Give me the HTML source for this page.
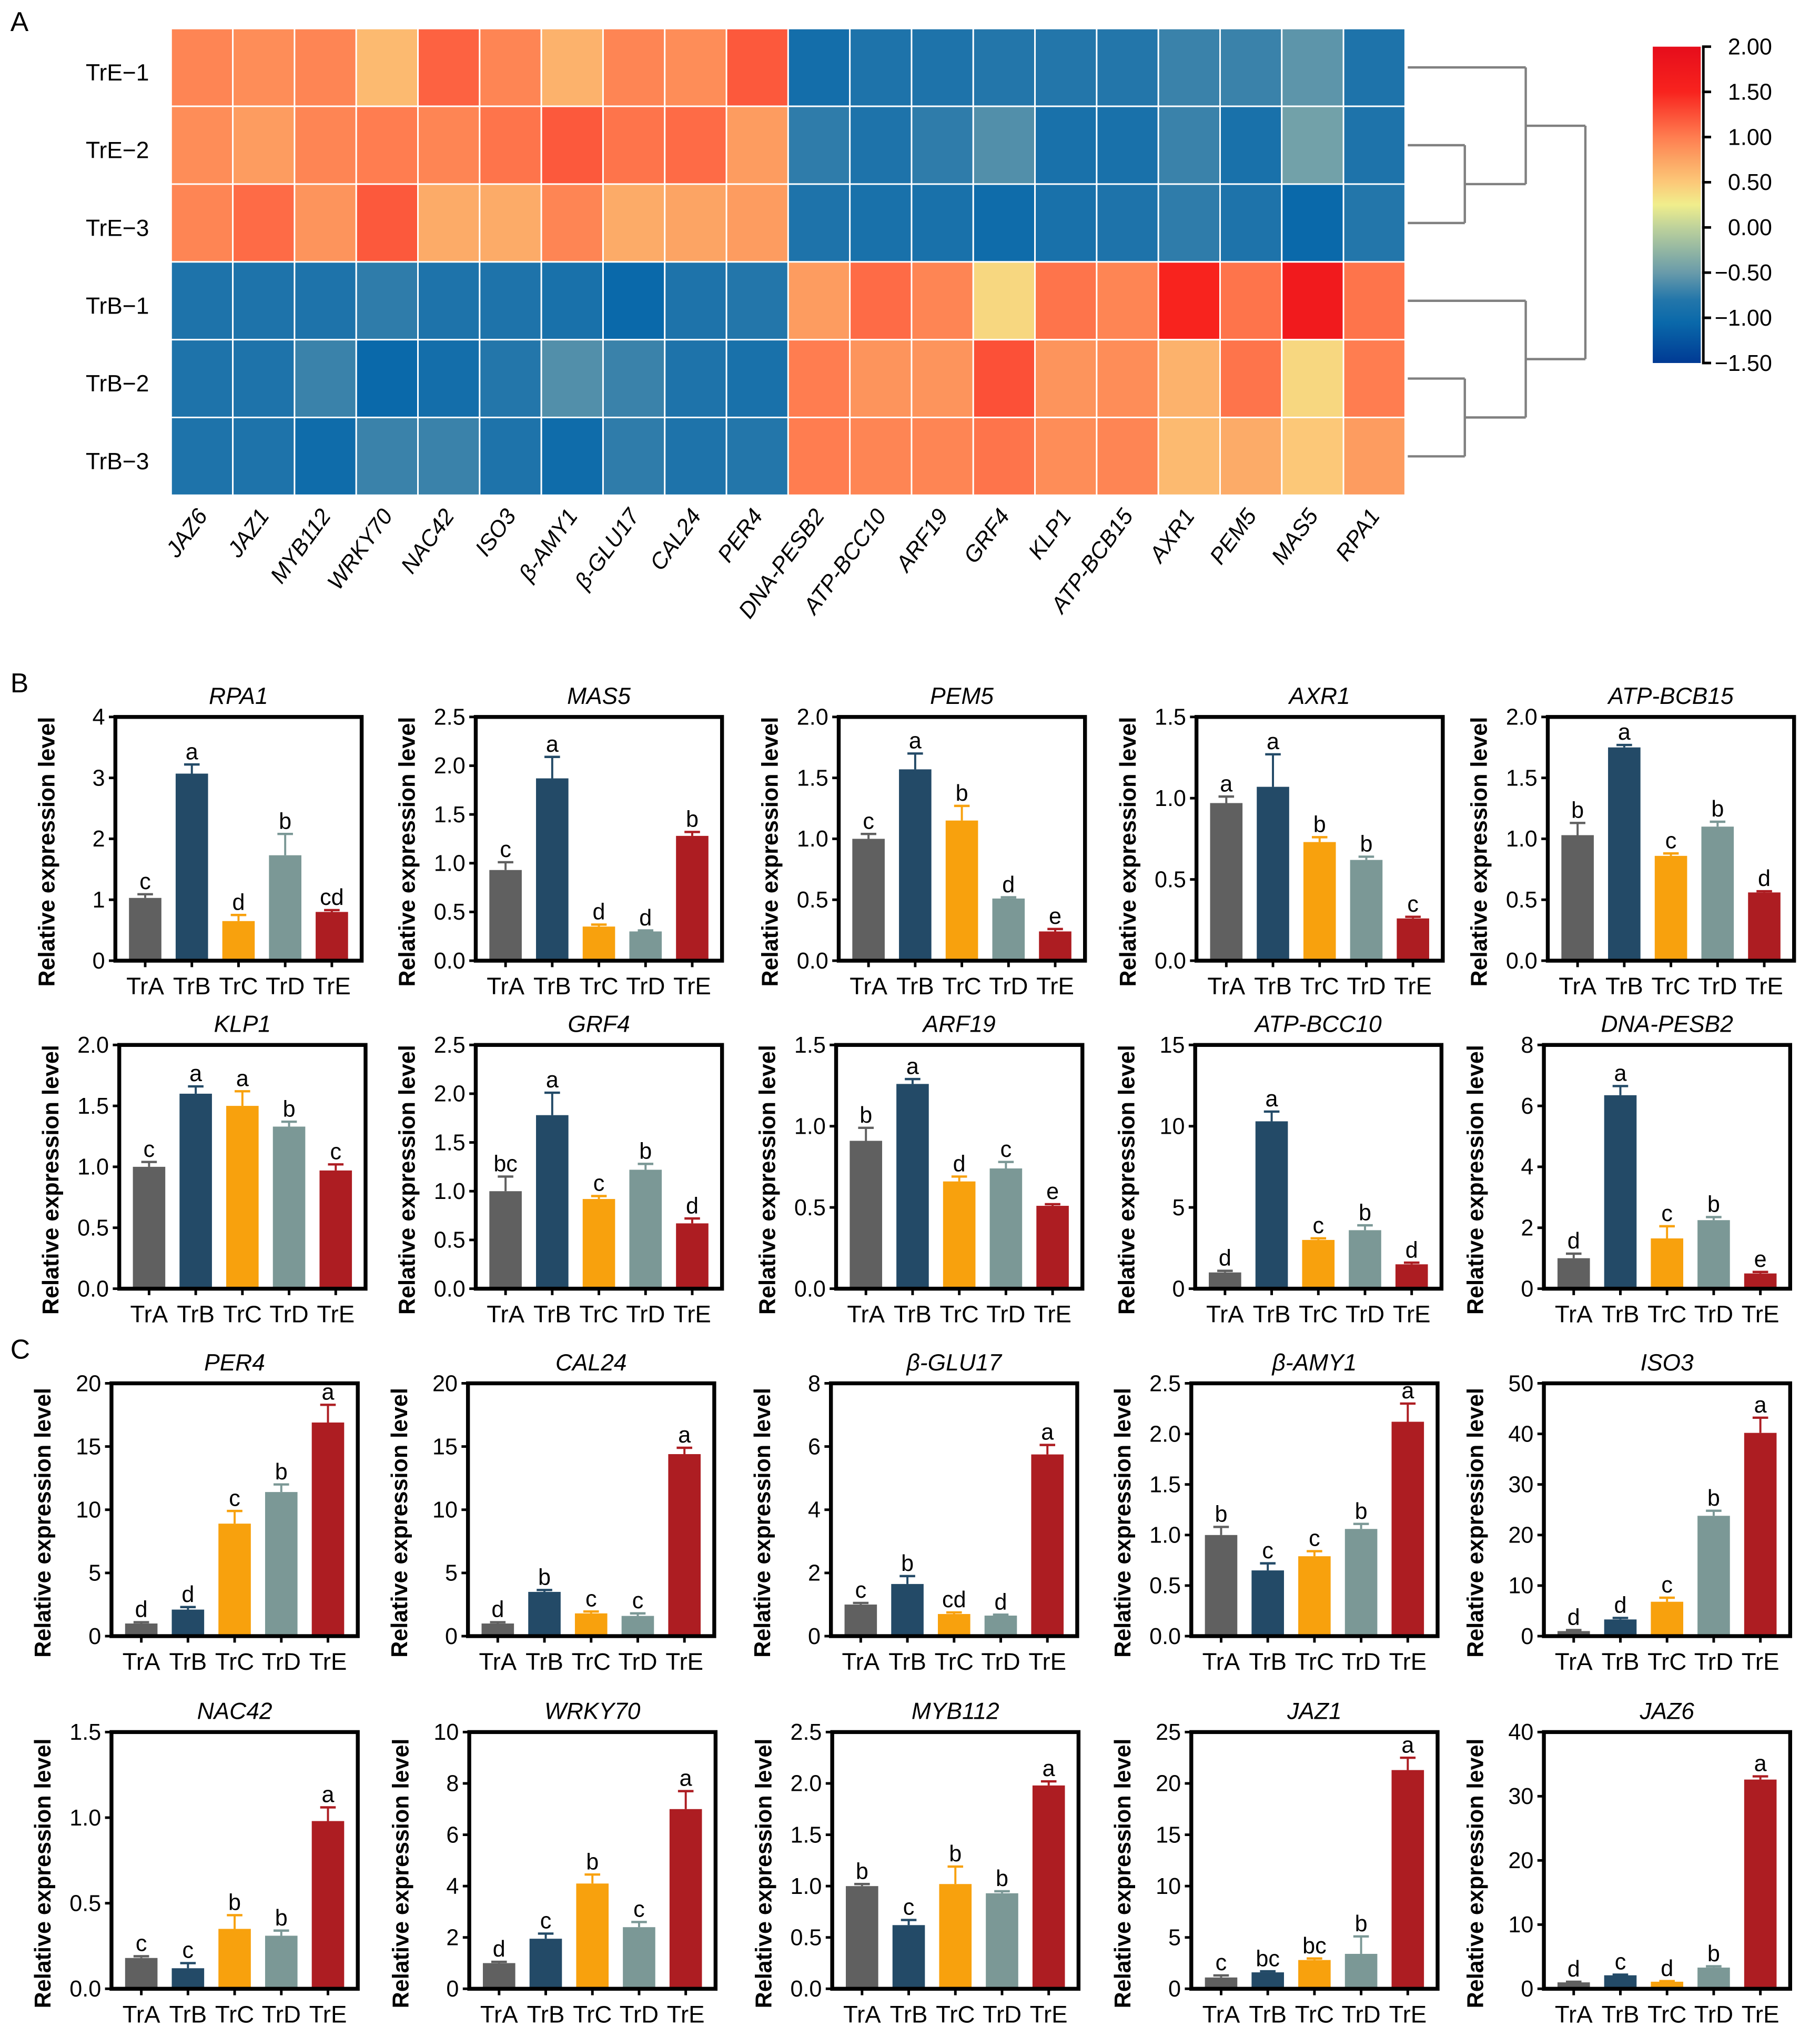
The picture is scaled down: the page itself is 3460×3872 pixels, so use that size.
<!DOCTYPE html>
<html><head><meta charset="utf-8">
<style>
html,body{margin:0;padding:0;background:#fff;}
svg{display:block;font-family:"Liberation Sans",Arial,sans-serif;}
</style></head>
<body>
<svg id="fig" xmlns="http://www.w3.org/2000/svg" width="3460" height="3872" viewBox="0 0 1404 1571.2" preserveAspectRatio="none">
<rect x="0" y="0" width="1404" height="1572" fill="#fff"/>
<text x="8" y="24" font-size="21">A</text>
<text x="8" y="534" font-size="21">B</text>
<text x="8" y="1048" font-size="21">C</text>
<g id="heat"></g>
<g id="bars"></g>
</svg>
<script>
const NS="http://www.w3.org/2000/svg";
// ---------- Heatmap data ----------
const heatRows=["TrE\u22121","TrE\u22122","TrE\u22123","TrB\u22121","TrB\u22122","TrB\u22123"];
const heatCols=["JAZ6","JAZ1","MYB112","WRKY70","NAC42","ISO3","\u03B2-AMY1","\u03B2-GLU17","CAL24","PER4","DNA-PESB2","ATP-BCC10","ARF19","GRF4","KLP1","ATP-BCB15","AXR1","PEM5","MAS5","RPA1"];
const heatR1=[0.95,0.9,0.95,0.6,1.15,0.95,0.65,0.95,0.9,1.2,-0.95,-0.85,-0.85,-0.8,-0.8,-0.8,-0.7,-0.7,-0.55,-0.85];
const heatR2=[0.9,0.8,0.95,1.0,0.95,1.05,1.2,1.05,1.1,0.8,-0.75,-0.85,-0.75,-0.6,-0.9,-0.9,-0.7,-0.9,-0.45,-0.85];
const heatR3=[0.95,1.1,0.85,1.2,0.7,0.7,0.95,0.7,0.75,0.8,-0.85,-0.9,-0.9,-1.0,-0.9,-0.85,-0.75,-0.85,-1.05,-0.8];
const heatR4=[-0.85,-0.85,-0.85,-0.75,-0.85,-0.85,-0.9,-1.05,-0.85,-0.8,0.8,1.1,0.95,0.4,1.05,0.95,1.5,1.05,1.7,1.05];
const heatR5=[-0.85,-0.85,-0.7,-1.05,-0.95,-0.8,-0.6,-0.7,-0.85,-0.9,1.0,0.85,0.85,1.25,0.85,0.9,0.65,1.05,0.4,1.0];
const heatR6=[-0.85,-0.85,-1.0,-0.7,-0.7,-0.85,-1.0,-0.75,-0.85,-0.8,1.0,0.95,0.95,1.05,0.9,0.95,0.6,0.7,0.5,0.8];
const heatVals=[heatR1,heatR2,heatR3,heatR4,heatR5,heatR6];
const cbTicks=["2.00","1.50","1.00","0.50","0.00","\u22120.50","\u22121.00","\u22121.50"];
const cbTickVals=[2,1.5,1,0.5,0,-0.5,-1,-1.5];

const stops=[[-1.5,[0,58,148]],[-1.05,[10,105,170]],[-0.8,[35,118,170]],[-0.5,[105,155,170]],[0,[190,210,155]],[0.25,[240,238,140]],[0.5,[252,200,120]],[0.75,[252,164,100]],[1.0,[255,125,80]],[1.5,[248,35,30]],[2.0,[230,13,27]]];
function cmap(v){
  if(v<=stops[0][0])return rgb(stops[0][1]);
  for(let i=1;i<stops.length;i++){
    if(v<=stops[i][0]){const a=stops[i-1],b=stops[i];const t=(v-a[0])/(b[0]-a[0]);
      return rgb(a[1].map((c,k)=>c+(b[1][k]-c)*t));}
  }
  return rgb(stops[stops.length-1][1]);
}
function rgb(c){return "rgb("+c.map(x=>Math.round(x)).join(",")+")";}
function mk(tag,attrs,parent){const e=document.createElementNS(NS,tag);for(const k in attrs)e.setAttribute(k,attrs[k]);parent.appendChild(e);return e;}

const heat=document.getElementById("heat");
const hx0=132,hx1=1084,hy0=22,hy1=382;
const cw=(hx1-hx0)/heatCols.length,rh=(hy1-hy0)/heatRows.length;
heatVals.forEach((row,ri)=>{
  row.forEach((v,ci)=>{
    const r=mk("rect",{x:hx0+ci*cw,y:hy0+ri*rh,width:cw,height:rh,fill:cmap(v),stroke:"#fff","stroke-width":1.2},heat);
    
    
  });
  const t=mk("text",{x:115,y:hy0+ri*rh+rh/2+10,"font-size":18,"text-anchor":"end"},heat);
  t.textContent=heatRows[ri];
  
  
});
heatCols.forEach((c,ci)=>{
  const cx=hx0+ci*cw+cw/2+5, cy=398;
  const t=mk("text",{x:cx,y:cy,"font-size":17.5,"font-style":"italic","text-anchor":"end",transform:`rotate(-54 ${cx} ${cy})`},heat);
  t.textContent=c;
  
  
});
// dendrogram
const rc=i=>hy0+i*rh+rh/2;
const dg=mk("g",{stroke:"#808080","stroke-width":1.8,fill:"none"},heat);


const m23=(rc(1)+rc(2))/2,mE=(rc(0)+m23)/2,m56=(rc(4)+rc(5))/2,mB=(rc(3)+m56)/2;
const xa=1130,xb=1177,xc=1223,xs=1086;
const segs=[
 [xs,rc(1),xa,rc(1)],[xs,rc(2),xa,rc(2)],[xa,rc(1),xa,rc(2)],
 [xs,rc(0),xb,rc(0)],[xa,m23,xb,m23],[xb,rc(0),xb,m23],
 [xs,rc(4),xa,rc(4)],[xs,rc(5),xa,rc(5)],[xa,rc(4),xa,rc(5)],
 [xs,rc(3),xb,rc(3)],[xa,m56,xb,m56],[xb,rc(3),xb,m56],
 [xb,mE,xc,mE],[xb,mB,xc,mB],[xc,mE,xc,mB]];
segs.forEach(s=>mk("line",{x1:s[0],y1:s[1],x2:s[2],y2:s[3]},dg));
// colorbar
const cbx=1275,cby0=36,cby1=280;
const defs=mk("defs",{},heat);
const lg=mk("linearGradient",{id:"cbg",x1:0,y1:1,x2:0,y2:0},defs);
stops.forEach(s=>mk("stop",{offset:((s[0]+1.5)/3.5),"stop-color":rgb(s[1])},lg));
const cbr=mk("rect",{x:cbx,y:cby0,width:37,height:cby1-cby0,fill:"url(#cbg)"},heat);


mk("line",{x1:1314,y1:cby0,x2:1314,y2:cby1,stroke:"#000","stroke-width":2},heat);
const cbY=v=>cby1-(v+1.5)/3.5*(cby1-cby0);
cbTickVals.forEach((v,i)=>{
  const y=cbY(v);
  mk("line",{x1:1313,y1:y,x2:1320,y2:y,stroke:"#000","stroke-width":2},heat);
  const t=mk("text",{x:1367,y:y+6,"font-size":17.5,"text-anchor":"end"},heat);
  t.textContent=cbTicks[i];
  
  
});

// ---------- Bar chart data ----------
const groups=["TrA","TrB","TrC","TrD","TrE"];
const barColors=["#606060","#234a67","#f8a10d","#7b9896","#ad1d22"];
const genes=["RPA1","MAS5","PEM5","AXR1","ATP-BCB15","KLP1","GRF4","ARF19","ATP-BCC10","DNA-PESB2","PER4","CAL24","\u03B2-GLU17","\u03B2-AMY1","ISO3","NAC42","WRKY70","MYB112","JAZ1","JAZ6"];
const yMax=[4,2.5,2,1.5,2,2,2.5,1.5,15,8,20,20,8,2.5,50,1.5,10,2.5,25,40];
const yStep=[1,0.5,0.5,0.5,0.5,0.5,0.5,0.5,5,2,5,5,2,0.5,10,0.5,2,0.5,5,10];
const yDec=[0,1,1,1,1,1,1,1,0,0,0,0,0,1,0,1,0,1,0,0];
const means=[
 [1.03,3.07,0.65,1.73,0.8],[0.93,1.87,0.35,0.3,1.28],[1.0,1.57,1.15,0.51,0.24],[0.97,1.07,0.73,0.62,0.26],[1.03,1.75,0.86,1.1,0.56],
 [1.0,1.6,1.5,1.33,0.97],[1.0,1.78,0.92,1.22,0.67],[0.91,1.26,0.66,0.74,0.51],[1.0,10.3,3.0,3.6,1.5],[1.0,6.35,1.65,2.25,0.5],
 [1.0,2.1,8.9,11.4,16.9],[1.0,3.5,1.8,1.6,14.4],[1.0,1.65,0.7,0.65,5.75],[1.0,0.65,0.79,1.06,2.12],[1.0,3.3,6.8,23.8,40.2],
 [0.18,0.12,0.35,0.31,0.98],[1.0,1.95,4.1,2.4,7.0],[1.0,0.62,1.02,0.93,1.98],[1.1,1.6,2.8,3.4,21.3],[1.0,2.1,1.1,3.3,32.6]];
const errs=[
 [0.06,0.15,0.1,0.35,0.03],[0.08,0.22,0.02,0.01,0.04],[0.04,0.13,0.12,0.01,0.02],[0.04,0.2,0.03,0.02,0.01],[0.1,0.02,0.02,0.04,0.01],
 [0.04,0.06,0.12,0.04,0.05],[0.15,0.23,0.03,0.06,0.05],[0.08,0.03,0.03,0.04,0.01],[0.1,0.6,0.1,0.3,0.1],[0.15,0.3,0.4,0.1,0.05],
 [0.1,0.2,1.0,0.6,1.4],[0.1,0.15,0.15,0.2,0.5],[0.05,0.25,0.05,0.03,0.3],[0.08,0.07,0.05,0.05,0.18],[0.2,0.3,0.8,1.0,3.0],
 [0.01,0.03,0.08,0.03,0.08],[0.05,0.2,0.35,0.2,0.7],[0.02,0.05,0.17,0.02,0.04],[0.2,0.1,0.15,1.7,1.2],[0.1,0.1,0.1,0.2,0.5]];
const letters=[
 ["c","a","d","b","cd"],["c","a","d","d","b"],["c","a","b","d","e"],["a","a","b","b","c"],["b","a","c","b","d"],
 ["c","a","a","b","c"],["bc","a","c","b","d"],["b","a","d","c","e"],["d","a","c","b","d"],["d","a","c","b","e"],
 ["d","d","c","b","a"],["d","b","c","c","a"],["c","b","cd","d","a"],["b","c","c","b","a"],["d","d","c","b","a"],
 ["c","c","b","b","a"],["d","c","b","c","a"],["b","c","b","b","a"],["c","bc","bc","b","a"],["d","c","d","b","a"]];

const bars=document.getElementById("bars");
const rowTop=[553,806,1067,1336],rowBot=[741,994,1262,1534];
const colLeft=[[89,367,647,923,1194],[92,367,645,922,1191],[86,361,641,919,1191],[86,362,642,919,1191]];
const boxW=190;
genes.forEach((g,gi)=>{
  const r=Math.floor(gi/5),c=gi%5;
  const L=colLeft[r][c],T=rowTop[r],B=rowBot[r];
  const gp=mk("g",{},bars);
  
  
  const y=v=>B-v/yMax[gi]*(B-T);
  const xc=i=>L+23+36*i;
  means[gi].forEach((m,i)=>{
    const top=y(m), et=y(m+errs[gi][i]);
    const b=mk("rect",{x:xc(i)-12.5,y:top,width:25,height:B-top,fill:barColors[i]},gp);
    
    
    mk("line",{x1:xc(i),y1:top,x2:xc(i),y2:et,stroke:barColors[i],"stroke-width":1.6},gp);
    mk("line",{x1:xc(i)-6,y1:et,x2:xc(i)+6,y2:et,stroke:barColors[i],"stroke-width":1.8},gp);
    const lt=mk("text",{x:xc(i),y:et-4,"font-size":17.5,"text-anchor":"middle"},gp);
    lt.textContent=letters[gi][i];
    
    
    mk("line",{x1:xc(i),y1:B,x2:xc(i),y2:B+5,stroke:"#000","stroke-width":2},gp);
    const xt=mk("text",{x:xc(i),y:B+26,"font-size":18.5,"text-anchor":"middle"},gp);
    xt.textContent=groups[i];
    
    
  });
  mk("rect",{x:L,y:T,width:boxW,height:B-T,fill:"none",stroke:"#000","stroke-width":3},gp);
  for(let v=0;v<=yMax[gi]+1e-9;v+=yStep[gi]){
    const yy=y(v);
    mk("line",{x1:L-5,y1:yy,x2:L,y2:yy,stroke:"#000","stroke-width":2},gp);
    const tt=mk("text",{x:L-8,y:yy+6,"font-size":17.5,"text-anchor":"end"},gp);
    tt.textContent=v.toFixed(yDec[gi]);
    
    
  }
  const ti=mk("text",{x:L+boxW/2,y:T-10,"font-size":18,"font-style":"italic","text-anchor":"middle"},gp);
  ti.textContent=g;
  
  
  const yx=L-47,yy=(T+B)/2+10;
  const yl=mk("text",{x:yx,y:yy,"font-size":17.5,"font-weight":"bold","text-anchor":"middle",transform:`rotate(-90 ${yx} ${yy})`},gp);
  yl.textContent="Relative expression level";
  
  
});
</script>
</body></html>
